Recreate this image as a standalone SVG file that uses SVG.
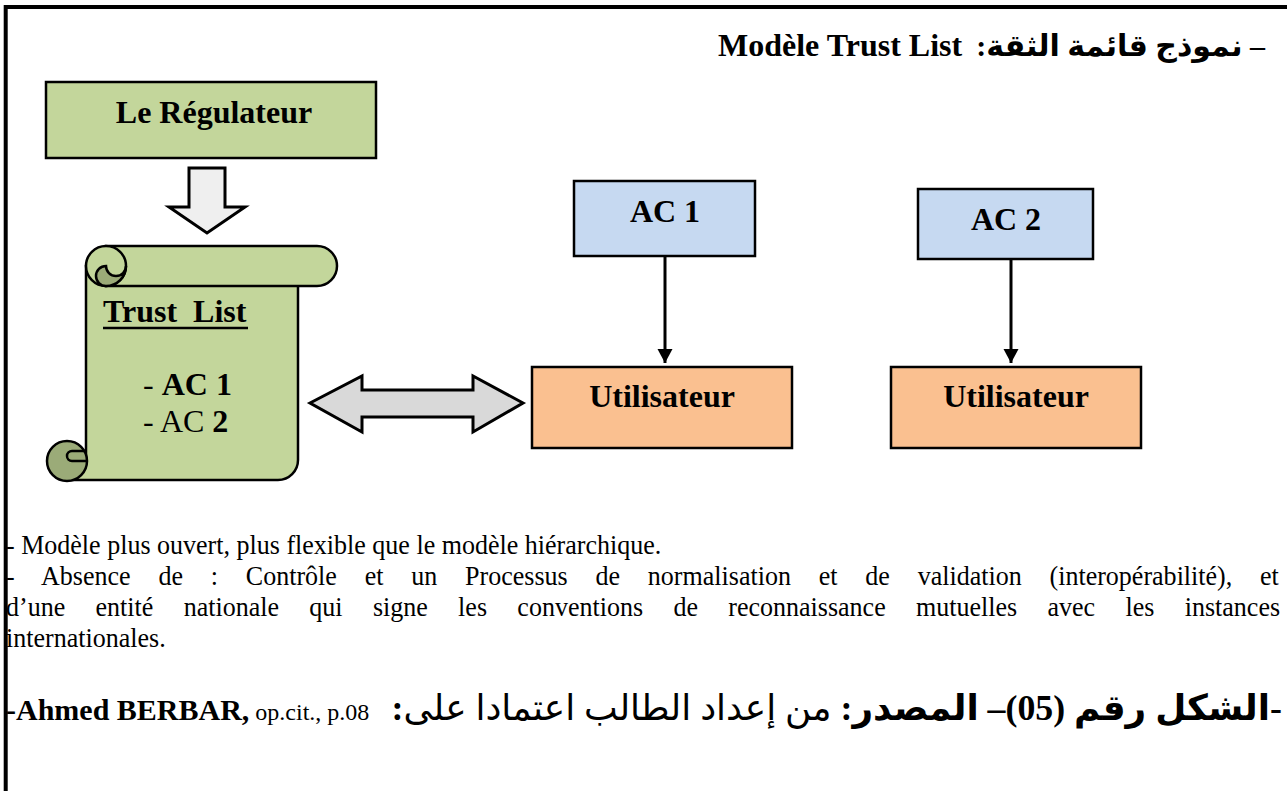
<svg xmlns="http://www.w3.org/2000/svg" width="1287" height="791" viewBox="0 0 1287 791">
  <style>
    .lbl { font-family: "Liberation Serif", "DejaVu Serif", serif; font-weight: bold; font-size: 32px; fill: #000; }
    .body { font-family: "Liberation Serif", "DejaVu Serif", serif; font-size: 28px; fill: #000; }
    .ar { font-family: "Liberation Serif", "DejaVu Sans", sans-serif; fill: #000; }
    .box { stroke: #000; stroke-width: 2.5; }
    .green { fill: #c3d69b; }
    .dark { fill: #9bab78; }
    .blue { fill: #c6d9f1; }
    .orange { fill: #fac090; }
    .ln { stroke: #000; stroke-width: 2.5; fill: none; }
  </style>
  <defs>
    <marker id="head" markerUnits="userSpaceOnUse" markerWidth="16" markerHeight="16" refX="14" refY="7.5" orient="auto">
      <path d="M0,0 L14,7.5 L0,15 z" fill="#000"/>
    </marker>
  </defs>

  <rect width="1287" height="791" fill="#fff"/>
  <!-- page frame (left and top edges) -->
  <path d="M5.7,791 V7 H1287" fill="none" stroke="#000" stroke-width="4"/>

  <!-- heading -->
  <g id="heading">
    <text class="lbl" x="718" y="56">Modèle Trust List</text>
    <text class="ar" x="1265" y="56" font-size="30" font-weight="bold" direction="rtl" text-anchor="start">– نموذج قائمة الثقة:</text>
  </g>

  <!-- regulator -->
  <g id="regulateur">
    <rect class="box green" x="46" y="82" width="330" height="76"/>
    <text class="lbl" x="214" y="123" text-anchor="middle">Le Régulateur</text>
  </g>

  <!-- trust list scroll -->
  <g id="trust-list">
    <!-- sheet -->
    <path class="box green" d="M86,266 V461 H67 V480 H278 A20,20 0 0 0 298,460 V266 Z"/>
    <!-- top roll -->
    <path class="box green" d="M106,246 H317 A20,20 0 0 1 317,286 H106 Z"/>
    <circle class="box green" cx="106" cy="266" r="20"/>
    <path class="box dark" d="M106,266 A10,10 0 0 0 106,286 A20,20 0 0 0 126,266 A10,10 0 0 1 106,266 Z"/>
    <!-- bottom curl -->
    <circle class="box dark" cx="67" cy="461" r="20"/>
    <path class="ln" d="M87,461 H72 A5,5 0 0 1 72,451 H87"/>
    <text class="lbl" x="103" y="322" xml:space="preserve">Trust  List</text>
    <line x1="103" y1="328" x2="248" y2="328" stroke="#000" stroke-width="2.5"/>
    <text class="lbl" x="143" y="395"><tspan font-weight="normal">- </tspan>AC 1</text>
    <text class="lbl" x="143" y="432"><tspan font-weight="normal">- AC </tspan>2</text>
  </g>

  <g id="ac1">
    <rect class="box blue" x="574" y="181" width="181" height="75"/>
    <text class="lbl" x="665" y="222" text-anchor="middle">AC 1</text>
  </g>
  <g id="util1">
    <rect class="box orange" x="532" y="367" width="260" height="81"/>
    <text class="lbl" x="662" y="407" text-anchor="middle">Utilisateur</text>
  </g>
  <g id="ac2">
    <rect class="box blue" x="918" y="189" width="175" height="70"/>
    <text class="lbl" x="1006" y="230" text-anchor="middle">AC 2</text>
  </g>
  <g id="util2">
    <rect class="box orange" x="891" y="367" width="250" height="81"/>
    <text class="lbl" x="1016" y="407" text-anchor="middle">Utilisateur</text>
  </g>

  <!-- connectors -->
  <g id="connectors">
    <path d="M189,168 H225 V207 H245 L207,233 L169,207 H189 Z" fill="#efefef" stroke="#000" stroke-width="3" stroke-linejoin="miter"/>
    <path d="M310,403 L362,376 V390 H473 V376 L523,403 L473,432 V417 H362 V432 Z" fill="#d9d9d9" stroke="#000" stroke-width="3"/>
    <line x1="665" y1="257" x2="665" y2="363" stroke="#000" stroke-width="3" marker-end="url(#head)"/>
    <line x1="1011" y1="260" x2="1011" y2="363" stroke="#000" stroke-width="3" marker-end="url(#head)"/>
  </g>

  <!-- notes, set slightly condensed -->
  <g id="notes" transform="scale(0.93,1)">
    <text class="body" x="6.45" y="554">- Modèle plus ouvert, plus flexible que le modèle hiérarchique.</text>
    <text class="body" x="6.45" y="585" word-spacing="22.9">- Absence de : Contrôle et un Processus de normalisation et de validation (interopérabilité), et</text>
    <text class="body" x="6.45" y="616" word-spacing="25.6">d’une entité nationale qui signe les conventions de reconnaissance mutuelles avec les instances</text>
    <text class="body" x="6.45" y="647">internationales.</text>
  </g>

  <!-- source line -->
  <g id="source">
    <text class="body" x="6" y="720" style="font-size:24px"><tspan style="font-weight:bold;font-size:30px">-Ahmed BERBAR,</tspan> op.cit., p.08</text>
    <text class="ar" x="1282" y="720" font-size="35.8" direction="rtl" text-anchor="start"><tspan font-weight="bold">-الشكل رقم (05)– المصدر:</tspan> من إعداد الطالب اعتمادا على<tspan font-weight="bold">:</tspan></text>
  </g>
</svg>
